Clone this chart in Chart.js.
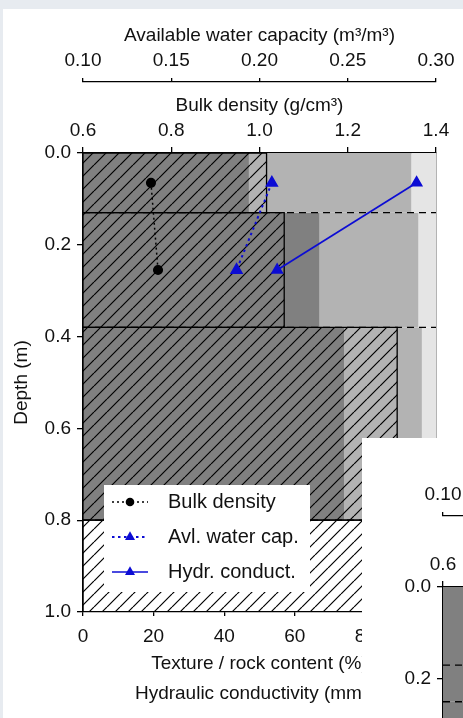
<!DOCTYPE html>
<html>
<head>
<meta charset="utf-8">
<script src="https://cdn.jsdelivr.net/npm/chart.js@4.4.0/dist/chart.umd.min.js"></script>
<style>
    html, body { margin: 0; padding: 0; }
    body { width: 463px; height: 718px; overflow: hidden; background: #e7ebf0; position: relative; }
    .painel { position: absolute; background: #fff; overflow: hidden; }
    #painel1 { left: 3px; top: 9px; width: 460px; height: 709px; }
    #painel2 { left: 362px; top: 438px; width: 470px; height: 720px; }
    canvas { position: absolute; }
    #perfil1 { left: 0; top: 0; }
    #perfil2 { left: 1px; top: 5px; }
</style>
</head>
<body>
<div class="painel" id="painel1"><canvas id="perfil1" width="460" height="709"></canvas></div>
<div class="painel" id="painel2"><canvas id="perfil2" width="460" height="709"></canvas></div>
<script>
// camadas do perfil (m)
const layerTop = [0, 0.13, 0.38, 0.80];
const layerBottom = [0.13, 0.38, 0.80, 1.0];
// textura (%) - argila / silte / areia, e pedregosidade (%)
const clay = [47, 67, 74, 0];
const silt = [46, 28, 22, 0];
const sand = [7, 5, 4, 0];
const rock = [52, 57, 89, 100];

// pontos medidos no meio das camadas
const seriesDepth = [0.065, 0.255];
const bulkDensity = [0.754, 0.77];
const awc = [0.207, 0.187];
const hydrCond = [94.5, 55];

// segundo perfil (só o canto aparece)
const layerTop2 = [0, 0.17, 0.25];
const layerBottom2 = [0.17, 0.25, 0.5];
const clay2 = [45, 45, 45];
const rock2 = [0, 0, 0];

// rótulos dos eixos
const depthTicks = [0, 0.2, 0.4, 0.6, 0.8, 1.0];
const textureTicks = [0, 20, 40, 60, 80, 100];
const bdTicks = [0.6, 0.8, 1.0, 1.2, 1.4];
const awcTicks = [0.10, 0.15, 0.20, 0.25, 0.30];

const textureColors = ['#808080', '#b3b3b3', '#e5e5e5'];
const azul = '#0c0cd4';

Chart.defaults.font.family = '"Liberation Sans", Arial, sans-serif';
Chart.defaults.font.size = 19;
Chart.defaults.color = '#111';

function rect(x0, x1, y0, y1) {
    return [{x: x0, y: y0}, {x: x1, y: y0}, {x: x1, y: y1}, {x: x0, y: y1}, {x: x0, y: y0}];
}

function hachura(ctx) {
    const s = 13;
    const c = document.createElement('canvas');
    c.width = s; c.height = s;
    const g = c.getContext('2d');
    g.strokeStyle = '#000';
    g.lineWidth = 1.2;
    g.beginPath();
    for (let k = -1; k <= 1; k++) {
        g.moveTo(k * s, s);
        g.lineTo(k * s + s, 0);
    }
    g.stroke();
    return ctx.createPattern(c, 'repeat');
}

function marcador(ctx, estilo, r, x, y) {
    ctx.beginPath();
    if (estilo === 'triangle') {
        for (let k = 0; k < 3; k++) {
            const a = -Math.PI / 2 + k * 2 * Math.PI / 3;
            const px = x + r * Math.cos(a), py = y + r * Math.sin(a);
            k ? ctx.lineTo(px, py) : ctx.moveTo(px, py);
        }
        ctx.closePath();
    } else {
        ctx.arc(x, y, r, 0, Math.PI * 2);
    }
    ctx.fill();
}

// legenda dentro da área do gráfico
const legendaInterna = {
    id: 'legendaInterna',
    afterDatasetsDraw(chart) {
        const series = chart.data.datasets.filter(d => d.label && d.data.length);
        if (!series.length) return;
        const {ctx, chartArea} = chart;
        const x0 = chartArea.left + 21, y0 = chartArea.bottom - 127;
        ctx.save();
        ctx.fillStyle = '#fff';
        ctx.fillRect(x0, y0, 206, 107);
        series.forEach(function (ds, i) {
            const cy = y0 + 17 + i * 35;
            ctx.strokeStyle = ds.borderColor;
            ctx.lineWidth = ds.borderWidth;
            ctx.setLineDash(ds.borderDash || []);
            ctx.beginPath();
            ctx.moveTo(x0 + 8, cy);
            ctx.lineTo(x0 + 44, cy);
            ctx.stroke();
            ctx.setLineDash([]);
            ctx.fillStyle = ds.pointBackgroundColor;
            marcador(ctx, ds.pointStyle, ds.pointRadius, x0 + 26, cy);
            ctx.fillStyle = '#111';
            ctx.font = '20px "Liberation Sans", Arial, sans-serif';
            ctx.textBaseline = 'middle';
            ctx.fillText(ds.label, x0 + 64, cy);
        });
        ctx.restore();
    }
};

function fixTicks(lista) {
    return function (s) { s.ticks = lista.map(v => ({value: v})); };
}

function eixoBase() {
    return {
        type: 'linear',
        z: 1,
        grid: {drawOnChartArea: false, color: '#000', lineWidth: 1.3},
        border: {color: '#000', width: 1.3},
        ticks: {maxRotation: 0, autoSkip: false}
    };
}

function montaGrafico(id, perfil) {
    const ctx = document.getElementById(id).getContext('2d');
    const padrao = hachura(ctx);
    const datasets = [];
    const n = perfil.top.length;

    // faixas de textura
    for (let i = 0; i < n; i++) {
        let acum = 0;
        [perfil.clay, perfil.silt, perfil.sand].forEach(function (arr, k) {
            const v = (arr && arr[i]) || 0;
            if (v > 0) {
                datasets.push({
                    data: rect(acum, acum + v, perfil.top[i], perfil.bottom[i]),
                    showLine: true, fill: 'shape', backgroundColor: textureColors[k],
                    borderColor: 'rgba(0,0,0,0)', borderWidth: 0, pointRadius: 0, order: 10
                });
            }
            acum += v;
        });
    }
    // limites das camadas (tracejado)
    for (let i = 0; i < n - 1; i++) {
        datasets.push({
            data: [{x: 0, y: perfil.bottom[i]}, {x: 100, y: perfil.bottom[i]}],
            showLine: true, fill: false, borderColor: '#000', borderWidth: 1.3,
            borderDash: [7, 5], pointRadius: 0, order: 8
        });
    }
    // pedregosidade (hachurado)
    for (let i = 0; i < n; i++) {
        if (perfil.rock[i] > 0) {
            datasets.push({
                data: rect(0, perfil.rock[i], perfil.top[i], perfil.bottom[i]),
                showLine: true, fill: 'shape', backgroundColor: padrao,
                borderColor: '#000', borderWidth: 1.3, pointRadius: 0, order: 6
            });
        }
    }
    // séries
    datasets.push({
        label: 'Bulk density', xAxisID: 'xBd',
        data: perfil.depth.filter((d, i) => perfil.bd[i] !== undefined).map((d, i) => ({x: perfil.bd[i], y: d})),
        showLine: true, fill: false, borderColor: '#000', borderWidth: 1.5, borderDash: [2, 3],
        pointStyle: 'circle', pointRadius: 4.3, pointBackgroundColor: '#000', pointBorderColor: '#000', order: 3
    });
    datasets.push({
        label: 'Avl. water cap.', xAxisID: 'xAwc',
        data: perfil.depth.filter((d, i) => perfil.awc[i] !== undefined).map((d, i) => ({x: perfil.awc[i], y: d})),
        showLine: true, fill: false, borderColor: azul, borderWidth: 2, borderDash: [2.5, 3.5],
        pointStyle: 'triangle', pointRadius: 5.8, pointBackgroundColor: azul, pointBorderColor: azul, order: 2
    });
    datasets.push({
        label: 'Hydr. conduct.', xAxisID: 'xHc',
        data: perfil.depth.filter((d, i) => perfil.hc[i] !== undefined).map((d, i) => ({x: perfil.hc[i], y: d})),
        showLine: true, fill: false, borderColor: azul, borderWidth: 1.7,
        pointStyle: 'triangle', pointRadius: 5.8, pointBackgroundColor: azul, pointBorderColor: azul, order: 1
    });

    const y = eixoBase();
    Object.assign(y, {
        position: 'left', reverse: true, min: depthTicks[0], max: depthTicks[depthTicks.length - 1],
        afterBuildTicks: fixTicks(depthTicks),
        title: {display: true, text: 'Depth (m)', padding: {top: 7, bottom: 0}},
        afterFit: s => { s.width = 80; }
    });
    y.ticks = {callback: v => v.toFixed(1), padding: 6};
    y.grid.tickLength = 6;

    const yR = eixoBase();
    Object.assign(yR, {axis: 'y', position: 'right', afterFit: s => { s.width = 0; }});
    yR.ticks = {display: false};
    yR.grid.drawTicks = false;

    const x = eixoBase();
    Object.assign(x, {
        position: 'bottom', weight: 1, min: textureTicks[0], max: textureTicks[textureTicks.length - 1],
        afterBuildTicks: fixTicks(textureTicks),
        title: {display: true, text: 'Texture / rock content (%)', padding: {top: 0, bottom: 2}},
        afterFit: s => { s.height = 65; }
    });
    x.ticks.padding = 9;
    x.grid.tickLength = 4;

    const xHc = {
        type: 'linear', axis: 'x', position: 'bottom', weight: 2, min: 0, max: 100,
        ticks: {display: false}, grid: {display: false}, border: {display: false},
        title: {display: true, text: 'Hydraulic conductivity (mm/d)', padding: {top: 0, bottom: 2}},
        afterFit: s => { s.height = 30; }
    };

    const xBd = eixoBase();
    Object.assign(xBd, {
        axis: 'x', position: 'top', weight: 1, min: bdTicks[0], max: bdTicks[bdTicks.length - 1],
        afterBuildTicks: fixTicks(bdTicks),
        title: {display: true, text: 'Bulk density (g/cm³)', padding: {top: 12, bottom: 0}},
        afterFit: s => { s.height = 71; }
    });
    xBd.ticks.callback = v => v.toFixed(1);
    xBd.ticks.padding = 4.5;
    xBd.grid.tickLength = 6;

    const xAwc = eixoBase();
    Object.assign(xAwc, {
        axis: 'x', position: 'top', weight: 2, min: awcTicks[0], max: awcTicks[awcTicks.length - 1],
        afterBuildTicks: fixTicks(awcTicks),
        title: {display: true, text: 'Available water capacity (m³/m³)', padding: {top: 15, bottom: 0}},
        afterFit: s => { s.height = 73; }
    });
    xAwc.ticks.callback = v => v.toFixed(2);
    xAwc.ticks.padding = 5.5;
    xAwc.grid.tickLength = 4;

    return new Chart(ctx, {
        type: 'scatter',
        data: {datasets: datasets},
        options: {
            responsive: false,
            animation: false,
            devicePixelRatio: 1,
            layout: {padding: {left: 0, top: 0, right: 27, bottom: 11}},
            plugins: {legend: {display: false}, tooltip: {enabled: false}},
            scales: {y: y, yR: yR, x: x, xHc: xHc, xBd: xBd, xAwc: xAwc}
        },
        plugins: [legendaInterna]
    });
}

montaGrafico('perfil1', {
    top: layerTop, bottom: layerBottom, clay: clay, silt: silt, sand: sand, rock: rock,
    depth: seriesDepth, bd: bulkDensity, awc: awc, hc: hydrCond
});
montaGrafico('perfil2', {
    top: layerTop2, bottom: layerBottom2, clay: clay2, rock: rock2,
    depth: [], bd: [], awc: [], hc: []
});
</script>
</body>
</html>
